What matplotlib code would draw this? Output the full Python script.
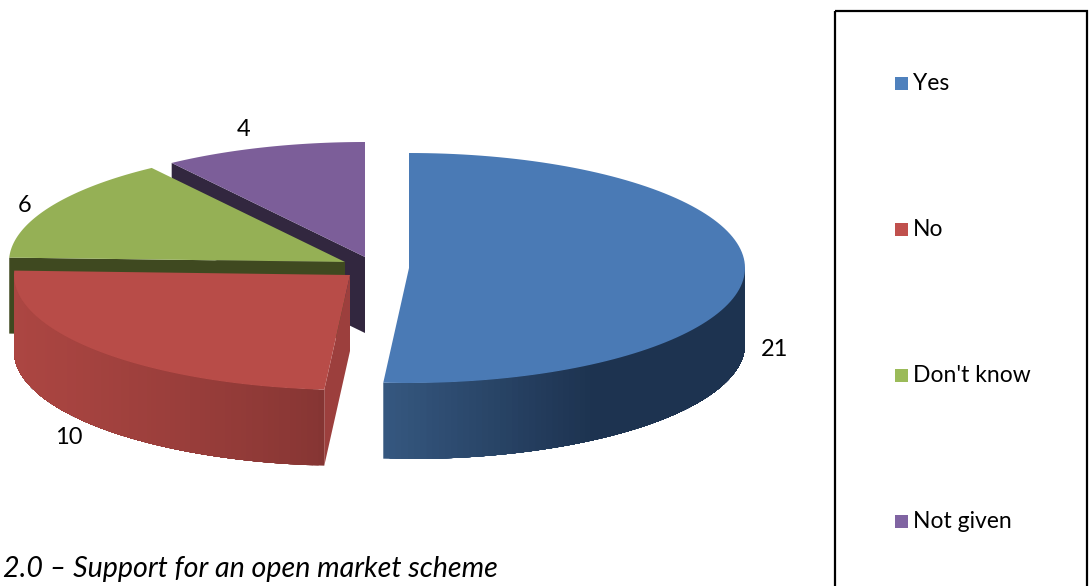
import numpy as np
import matplotlib
matplotlib.use('Agg')
import matplotlib.pyplot as plt
from matplotlib.colors import to_rgb
from matplotlib.patches import Rectangle

plt.rcParams['font.family'] = ['Lato', 'DejaVu Sans']

categories = ['Yes', 'No', "Don't know", 'Not given']
values = [21, 10, 6, 4]
caption = '2.0 – Support for an open market scheme'

# colours
legend_colors = ['#4f81bd', '#c0504d', '#9bbb59', '#8064a2']
top_colors = ['#4a7ab5', '#b84c48', '#95b055', '#7c5e99']
cut_colors = [None, '#9c3f3d', '#3f4920', '#32273f']
wall_left = {0: '#35577f', 1: '#853533'}
wall_right = {0: '#1d3350', 1: '#ac4642'}

# layout, in pixels of the picture
centers = [(409, 268), (350, 275), (345, 262), (365, 257)]
rx, ry, depth = 336, 115, 76
label_pos = [(775, 349), (69, 438), (25, 206), (244, 129)]
legend_y = [83, 229, 375, 521]


def ell(center, ang):
    a = np.radians(ang)
    return center[0] + rx * np.cos(a), center[1] - ry * np.sin(a)


def mix(c1, c2, t):
    c1, c2 = np.array(to_rgb(c1)), np.array(to_rgb(c2))
    return tuple(c1 + (c2 - c1) * t)


fig = plt.figure(figsize=(10.91, 5.86), dpi=100)
ax = fig.add_axes([0, 0, 1, 1])
ax.set_xlim(0, 1091)
ax.set_ylim(586, 0)
ax.axis('off')

# slice angles, clockwise from the top
sweeps = np.array(values) / sum(values) * 360
starts = 90 - np.concatenate([[0], np.cumsum(sweeps)[:-1]])
ends = starts - sweeps

# back slices first so the front ones cover them
for i in [3, 2, 1, 0]:
    c = centers[i]
    a0, a1 = starts[i], ends[i]

    # flat wall on the cut edge
    if cut_colors[i]:
        p = ell(c, a0)
        ax.fill([c[0], p[0], p[0], c[0]], [c[1], p[1], p[1] + depth, c[1] + depth],
                color=cut_colors[i], lw=0)

    # shaded outer wall, front half only
    if i in wall_left:
        lo, hi = max(a1, -180), min(a0, 0)
        if i == 0:
            angs = np.linspace(lo, hi, 90)
        else:
            angs = np.linspace(hi, lo, 90)
        # each piece runs on to the far end, so no seams show between them
        for k in range(len(angs) - 1):
            xs, ys = ell(c, angs[k:])
            x0 = xs[0]
            if i == 0:
                # blue goes dark about 60 percent of the way along x
                t = min(1, (x0 - c[0] + 25) / 205)
                col = mix(wall_left[0], wall_right[0], t)
            else:
                t = np.clip((c[0] - 26 - x0) / 310, 0, 1)
                col = mix(wall_left[1], wall_right[1], t ** 0.8)
            ax.fill(np.r_[xs, xs[::-1]], np.r_[ys, ys[::-1] + depth], color=col, lw=0)

    # top face
    angs = np.linspace(a0, a1, 120)
    xs, ys = ell(c, angs)
    ax.fill(np.r_[c[0], xs], np.r_[c[1], ys], color=top_colors[i], lw=0)

for val, (x, y) in zip(values, label_pos):
    ax.text(x, y, str(val), ha='center', va='center', fontsize=17, color='black')

# legend box runs off the bottom of the picture
ax.add_patch(Rectangle((834.5, 11), 252, 600, fill=False, edgecolor='black', lw=1.6))
for cat, col, y in zip(categories, legend_colors, legend_y):
    ax.add_patch(Rectangle((895, y - 6), 13, 13, color=col, lw=0))
    ax.text(913, y + 1, cat, ha='left', va='center', fontsize=16.5, color='black')

ax.text(3, 569, caption, ha='left', va='center', fontsize=20.6, style='italic',
        color='black')

fig.savefig('out.png', dpi=100)
